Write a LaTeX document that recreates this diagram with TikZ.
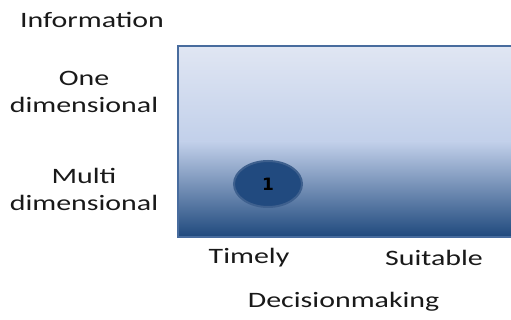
\documentclass[tikz,border=0pt]{standalone}
\usepackage{fontspec}
\setmainfont{Carlito}
\newfontfamily\dotfont{DejaVu Sans Bold}
\usetikzlibrary{shapes.geometric}
\definecolor{paneTop}{RGB}{224,230,243}
\definecolor{paneMid}{RGB}{194,208,234}
\definecolor{paneLow}{RGB}{31,73,125}
\definecolor{paneEdge}{RGB}{72,108,158}
\definecolor{dotFill}{RGB}{33,74,127}
\definecolor{dotEdge}{RGB}{62,96,142}
\definecolor{inkGray}{RGB}{25,25,25}
\newcommand*{\AxisLabels}[1]{% #1 = list of name/x/y/text
  \foreach \nm/\x/\y/\txt in {#1} {
    \node [axislbl] (\nm) at (\x,\y) {\txt};
  }%
}

\begin{document}
\begin{tikzpicture}[x=1pt,y=-1pt,
    axislbl/.style={text=inkGray, align=center, inner sep=0pt,
      font=\fontsize{22}{27}\selectfont, xscale=1.36, transform shape},
    dot/.style={ellipse, fill=dotFill, draw=dotEdge, line width=2pt,
      minimum width=68pt, minimum height=46pt, inner sep=0pt, text=black,
      font=\dotfont\fontsize{17}{17}\selectfont}]
    \useasboundingbox (0,0) rectangle (511,320);
    \clip (0,0) rectangle (511,320);

    % the pane
    \fill [top color=paneTop, bottom color=paneMid] (178,46) rectangle (520,142);
    \fill [top color=paneMid, bottom color=paneLow] (178,141.5) rectangle (520,237);
    \draw [paneEdge, line width=2pt] (178,46) rectangle (520,237);

    \node [dot] (one) at (268,184) {1};

    \AxisLabels{
      info/92/20/Information,
      onedim/84/92/One\\dimensional,
      multidim/84/189/Multi\\dimensional,
      timely/249/258/Timely,
      suitable/434/258/Suitable,
      decision/347/302/Decisionmaking
    }
\end{tikzpicture}
\end{document}
